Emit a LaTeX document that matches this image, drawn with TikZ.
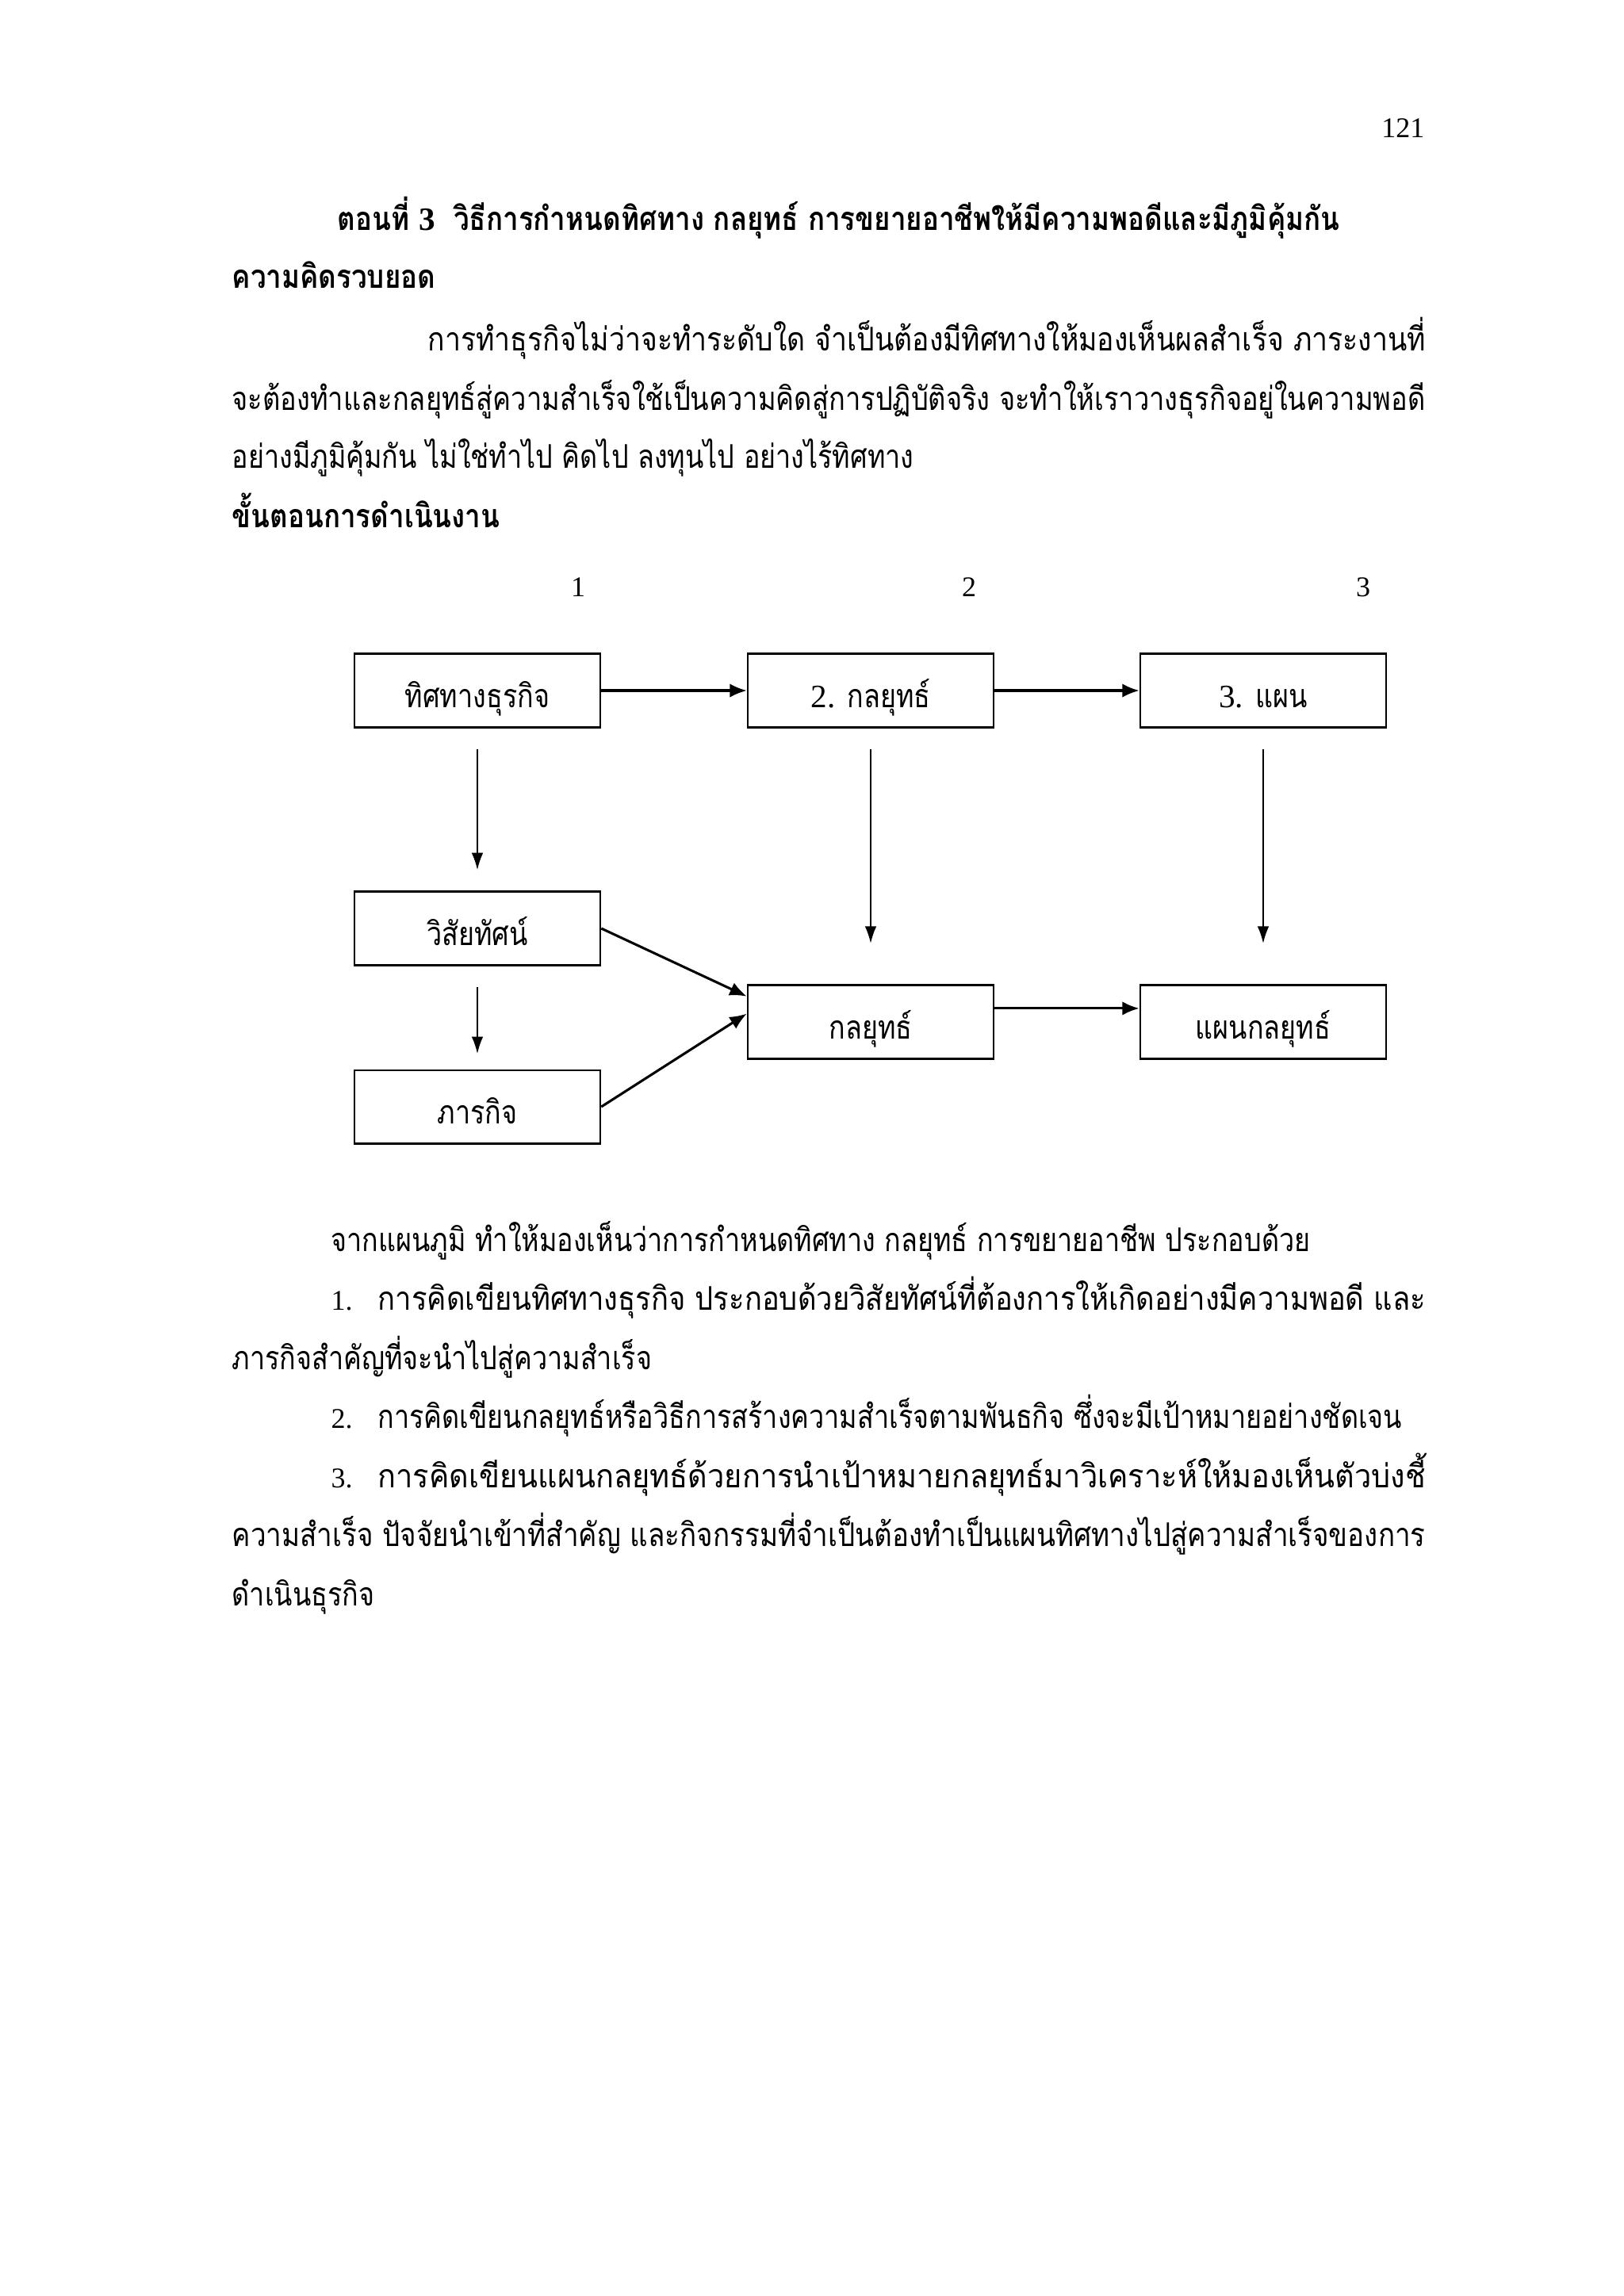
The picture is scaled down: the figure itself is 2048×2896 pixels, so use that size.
\documentclass[tikz,border=0pt]{standalone}
\usepackage{fontspec}
\setmainfont{Liberation Serif}
\newfontfamily\thaifont[Script=Thai,FakeStretch=0.83]{Loma}
\newfontfamily\thaibold[Script=Thai,FakeStretch=0.85,UprightFont=* Bold]{Loma}
\usetikzlibrary{positioning,calc,arrows.meta}

% full lines of a justified paragraph
\newcommand{\fullline}[2]{\resizebox{#1}{\height}{#2}}

\tikzset{
  stepbox/.style={draw, rectangle, line width=0.7pt, inner sep=0pt,
    minimum width=3.18cm, minimum height=0.95cm, align=center,
    text height=0.5cm, text depth=0.05cm,
    font=\thaifont\fontsize{12}{14}\selectfont},
  txt/.style={anchor=base west, inner sep=0pt, font=\thaifont\fontsize{12}{14}\selectfont},
  head/.style={txt, font=\thaibold\fontsize{12}{14}\selectfont},
  num/.style={anchor=base, inner sep=0pt, font=\fontsize{10.5}{12}\selectfont},
  flow/.style={-{Latex[length=2.2mm,width=1.8mm]}, line width=0.9pt},
  down/.style={-{Latex[length=2.2mm,width=1.5mm]}, line width=0.5pt,
    shorten <=0.27cm},
}

\begin{document}
\begin{tikzpicture}[x=0.010254cm, y=-0.010254cm]
\useasboundingbox (0,0) rectangle (2048,2896);

% page number and headings
\node[num, anchor=base east] (page) at (1797,173) {121};
\node[head] (title) at (425,290) {ตอนที่ {\rmfamily\bfseries 3}\ \ วิธีการกำหนดทิศทาง กลยุทธ์ การขยายอาชีพให้มีความพอดีและมีภูมิคุ้มกัน};
\node[head] (concept) at (292,363) {ความคิดรวบยอด};
\node[txt] (p1) at (539,442) {\fullline{12.90cm}{การทำธุรกิจไม่ว่าจะทำระดับใด จำเป็นต้องมีทิศทางให้มองเห็นผลสำเร็จ ภาระงานที่}};
\node[txt] (p2) at (292,517) {\fullline{15.43cm}{จะต้องทำและกลยุทธ์สู่ความสำเร็จใช้เป็นความคิดสู่การปฏิบัติจริง จะทำให้เราวางธุรกิจอยู่ในความพอดี}};
\node[txt] (p3) at (292,590) {อย่างมีภูมิคุ้มกัน ไม่ใช่ทำไป คิดไป ลงทุนไป อย่างไร้ทิศทาง};
\node[head] (steps) at (292,665) {ขั้นตอนการดำเนินงาน};

% column numbers
\node[num] (n1) at (729,752) {1};
\node[num] (n2) at (1222,752) {2};
\node[num] (n3) at (1719,752) {3};

% boxes
\node[stepbox] (dir) at (602,871) {ทิศทางธุรกิจ};
\node[stepbox] (strat) at (1098,871) {{\rmfamily 2.} กลยุทธ์};
\node[stepbox] (plan) at (1593,871) {{\rmfamily 3.} แผน};
\node[stepbox] (vision) at (602,1171) {วิสัยทัศน์};
\node[stepbox] (strat2) at (1098,1289) {กลยุทธ์};
\node[stepbox] (splan) at (1593,1289) {แผนกลยุทธ์};
\node[stepbox] (mission) at (602,1396) {ภารกิจ};

% connectors
\draw[flow] (dir) -- (strat);
\draw[flow] (strat) -- (plan);
\draw[down, shorten >=0.27cm] (dir) -- (vision);
\draw[down, shorten >=0.53cm] (strat) -- (strat2);
\draw[down, shorten >=0.53cm] (plan) -- (splan);
\draw[down, shorten >=0.2cm] (vision) -- (mission);
\draw[flow] (vision.east) -- ($(strat2.north west)!0.16!(strat2.south west)$);
\draw[flow] (mission.east) -- ($(strat2.north west)!0.39!(strat2.south west)$);
\draw[flow] ($(strat2.north east)!0.32!(strat2.south east)$) -- ($(splan.north west)!0.32!(splan.south west)$);

% text below the chart
\node[txt] (b1) at (417,1578) {จากแผนภูมิ ทำให้มองเห็นว่าการกำหนดทิศทาง กลยุทธ์ การขยายอาชีพ ประกอบด้วย};
\node[num, anchor=base west] (i1) at (417,1652) {1.};
\node[txt] (b2) at (476,1652) {\fullline{13.55cm}{การคิดเขียนทิศทางธุรกิจ ประกอบด้วยวิสัยทัศน์ที่ต้องการให้เกิดอย่างมีความพอดี และ}};
\node[txt] (b3) at (292,1727) {ภารกิจสำคัญที่จะนำไปสู่ความสำเร็จ};
\node[num, anchor=base west] (i2) at (417,1801) {2.};
\node[txt] (b4) at (476,1801) {การคิดเขียนกลยุทธ์หรือวิธีการสร้างความสำเร็จตามพันธกิจ ซึ่งจะมีเป้าหมายอย่างชัดเจน};
\node[num, anchor=base west] (i3) at (417,1876) {3.};
\node[txt] (b5) at (476,1876) {\fullline{13.55cm}{การคิดเขียนแผนกลยุทธ์ด้วยการนำเป้าหมายกลยุทธ์มาวิเคราะห์ให้มองเห็นตัวบ่งชี้}};
\node[txt] (b6) at (292,1950) {\fullline{15.43cm}{ความสำเร็จ ปัจจัยนำเข้าที่สำคัญ และกิจกรรมที่จำเป็นต้องทำเป็นแผนทิศทางไปสู่ความสำเร็จของการ}};
\node[txt] (b7) at (292,2025) {ดำเนินธุรกิจ};
\end{tikzpicture}
\end{document}
